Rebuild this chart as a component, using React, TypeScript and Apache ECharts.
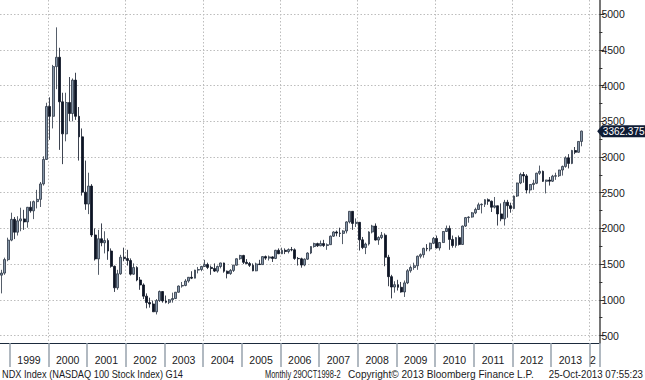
import React, { useEffect, useRef } from 'react';
import * as echarts from 'echarts';

// Category months: Oct 1998 .. Mar 2014
const firstYear = 1998;
const lastYear = 2014;
const months: string[] = [];
for (let y = firstYear; y <= lastYear; y++) {
  for (let m = 1; m <= 12; m++) {
    const key = `${y}-${m < 10 ? '0' + m : m}`;
    if (key >= '1998-10' && key <= '2014-03') months.push(key);
  }
}

// Monthly NDX values, Oct 1998 .. Oct 2013
const opens = [
  1345, 1374, 1563,
  1836, 2127, 1947, 2106, 2133, 2091, 2296, 2246, 2375, 2407, 2623, 2966,
  3707, 3570, 4266, 4397, 3773, 3324, 3763, 3609, 4077, 3570, 3282, 2507,
  2341, 2593, 1908, 1573, 1855, 1799, 1830, 1683, 1469, 1168, 1364, 1596,
  1577, 1550, 1359, 1452, 1277, 1208, 1051, 962, 942, 832, 989, 1116,
  984, 965, 1000, 1018, 1106, 1193, 1201, 1263, 1315, 1303, 1416, 1424,
  1467, 1494, 1454, 1438, 1402, 1466, 1516, 1400, 1367, 1412, 1485, 1575,
  1621, 1525, 1507, 1483, 1406, 1502, 1493, 1605, 1584, 1601, 1579, 1693,
  1645, 1693, 1676, 1703, 1700, 1579, 1575, 1487, 1569, 1655, 1746, 1787,
  1757, 1788, 1760, 1772, 1891, 1950, 1934, 1930, 1964, 2091, 2239, 2070,
  2085, 1840, 1732, 1781, 1950, 2033, 1837, 1872, 1905, 1596, 1324, 1179,
  1212, 1175, 1110, 1237, 1407, 1452, 1477, 1610, 1632, 1720, 1712, 1792,
  1860, 1726, 1802, 1957, 2000, 1846, 1760, 1871, 1775, 2033, 2151, 2159,
  2218, 2265, 2331, 2338, 2402, 2381, 2297, 2317, 2203, 2134, 2366, 2318,
  2278, 2453, 2636, 2755, 2735, 2538, 2615, 2632, 2773, 2799, 2659, 2678,
  2661, 2731, 2738, 2818, 2868, 2988, 2910, 3091, 3066, 3218,
];
const closes = [
  1374, 1563, 1836,
  2127, 1947, 2106, 2133, 2091, 2296, 2246, 2375, 2407, 2623, 2966, 3707,
  3570, 4266, 4397, 3773, 3324, 3763, 3609, 4077, 3570, 3282, 2507, 2341,
  2593, 1908, 1573, 1855, 1799, 1830, 1683, 1469, 1168, 1364, 1596, 1577,
  1550, 1359, 1452, 1277, 1208, 1051, 962, 942, 832, 989, 1116, 984,
  965, 1000, 1018, 1106, 1193, 1201, 1263, 1315, 1303, 1416, 1424, 1467,
  1494, 1454, 1438, 1402, 1466, 1516, 1400, 1367, 1412, 1485, 1575, 1621,
  1525, 1507, 1483, 1406, 1502, 1493, 1605, 1584, 1601, 1579, 1693, 1645,
  1693, 1676, 1703, 1700, 1579, 1575, 1487, 1569, 1655, 1746, 1787, 1757,
  1788, 1760, 1772, 1891, 1950, 1934, 1930, 1964, 2091, 2239, 2070, 2085,
  1840, 1732, 1781, 1950, 2033, 1837, 1872, 1905, 1596, 1324, 1179, 1212,
  1175, 1110, 1237, 1407, 1452, 1477, 1610, 1632, 1720, 1712, 1792, 1860,
  1726, 1802, 1957, 2000, 1846, 1760, 1871, 1775, 2033, 2151, 2159, 2218,
  2265, 2331, 2338, 2402, 2381, 2297, 2317, 2203, 2134, 2366, 2318, 2278,
  2453, 2636, 2755, 2735, 2538, 2615, 2632, 2773, 2799, 2659, 2678, 2661,
  2731, 2738, 2818, 2868, 2988, 2910, 3091, 3066, 3218, 3362.375,
];
const highs = [
  1420, 1590, 1870,
  2220, 2160, 2170, 2290, 2260, 2300, 2380, 2390, 2540, 2650, 3010, 3760,
  3836, 4290, 4816, 4530, 3900, 3900, 4120, 4100, 4180, 3700, 3400, 2950,
  2780, 2620, 2000, 1980, 2070, 1960, 1860, 1720, 1480, 1420, 1630, 1730,
  1700, 1580, 1510, 1470, 1320, 1230, 1090, 1030, 990, 1010, 1130, 1120,
  1060, 1010, 1100, 1110, 1200, 1250, 1290, 1320, 1400, 1420, 1460, 1475,
  1560, 1520, 1480, 1510, 1480, 1520, 1520, 1410, 1430, 1490, 1580, 1630,
  1630, 1570, 1530, 1510, 1520, 1560, 1610, 1620, 1620, 1610, 1700, 1720,
  1730, 1720, 1720, 1740, 1720, 1600, 1590, 1580, 1665, 1750, 1800, 1800,
  1830, 1840, 1790, 1900, 1960, 1970, 2010, 1975, 2100, 2240, 2240, 2140,
  2090, 1880, 1800, 1960, 2050, 2070, 1890, 1950, 1930, 1630, 1350, 1260,
  1280, 1250, 1270, 1430, 1480, 1520, 1620, 1650, 1730, 1780, 1800, 1880,
  1900, 1810, 1960, 2040, 2040, 1900, 1880, 1900, 2040, 2160, 2170, 2230,
  2290, 2360, 2350, 2410, 2420, 2390, 2440, 2320, 2350, 2400, 2400, 2360,
  2460, 2640, 2780, 2790, 2760, 2620, 2680, 2780, 2880, 2810, 2680, 2720,
  2750, 2780, 2820, 2880, 3010, 3040, 3100, 3140, 3220, 3370,
];
const lows = [
  1090, 1350, 1540,
  1820, 1850, 1900, 1960, 1980, 2010, 2220, 2130, 2280, 2300, 2600, 2960,
  3240, 3400, 3950, 3100, 2900, 3220, 3500, 3500, 3520, 2950, 2460, 2260,
  2200, 1880, 1550, 1350, 1750, 1650, 1560, 1450, 1110, 1140, 1350, 1540,
  1480, 1340, 1350, 1260, 1140, 1010, 880, 890, 830, 795, 970, 960,
  950, 940, 960, 1010, 1100, 1170, 1190, 1240, 1290, 1300, 1370, 1400,
  1460, 1430, 1350, 1390, 1380, 1440, 1380, 1300, 1350, 1390, 1480, 1560,
  1500, 1500, 1460, 1400, 1400, 1490, 1490, 1560, 1550, 1530, 1570, 1640,
  1640, 1640, 1650, 1680, 1560, 1480, 1450, 1470, 1560, 1640, 1730, 1740,
  1750, 1740, 1700, 1770, 1880, 1890, 1880, 1780, 1930, 2070, 1980, 2020,
  1690, 1710, 1640, 1760, 1930, 1830, 1770, 1850, 1470, 1190, 1020, 1100,
  1130, 1100, 1040, 1220, 1380, 1420, 1420, 1580, 1590, 1680, 1680, 1780,
  1720, 1690, 1800, 1950, 1700, 1730, 1730, 1760, 1770, 2020, 2080, 2150,
  2200, 2260, 2210, 2300, 2330, 2230, 2280, 2040, 2100, 2040, 2150, 2220,
  2270, 2440, 2620, 2640, 2490, 2490, 2540, 2620, 2750, 2650, 2490, 2600,
  2650, 2680, 2720, 2740, 2850, 2840, 2900, 3040, 3060, 3150,
];

const lastValue = 3362.375;
const yTicks = [500, 1000, 1500, 2000, 2500, 3000, 3500, 4000, 4500, 5000];
const yMinorTicks = [750, 1250, 1750, 2250, 2750, 3250, 3750, 4250, 4750];

const footerLeft = 'NDX Index (NASDAQ 100 Stock Index) G14';
const footerPeriod = 'Monthly 29OCT1998-2';
const footerCopy = 'Copyright\u00a9 2013 Bloomberg Finance L.P.';
const footerDate = '25-Oct-2013 07:55:23';

const FONT = "'Liberation Sans', Arial, sans-serif";

export default function App() {
  const ref = useRef<HTMLDivElement>(null);
  useEffect(() => {
    const chart = echarts.init(ref.current!, null, { renderer: 'svg' });
    const candles = opens.map((o, i) => [o, closes[i], lows[i], highs[i]]);
    const isJan = (v: string) => v.endsWith('-01');
    const textCol = '#1a1a22';
    const footStyle = (text: string, align: string) => ({
      text,
      fill: textCol,
      fontSize: 11,
      fontFamily: FONT,
      align,
      verticalAlign: 'middle',
    });
    chart.setOption({
      animation: false,
      backgroundColor: '#ffffff',
      textStyle: { fontFamily: FONT },
      grid: { left: -2, right: 45.6, top: 0, bottom: 37, containLabel: false },
      xAxis: {
        type: 'category',
        data: months,
        boundaryGap: true,
        axisLine: { show: true, onZero: false, lineStyle: { color: '#1b2a3c', width: 1 } },
        axisTick: {
          show: true,
          interval: (_i: number, v: string) => isJan(v),
          length: 24,
          lineStyle: { color: '#97a2ad', width: 1.5 },
        },
        axisLabel: {
          interval: (_i: number, v: string) => v.endsWith('-07') || v === '2014-02',
          formatter: (v: string) => (v === '2014-02' ? '2' : v.slice(0, 4)),
          margin: 11,
          fontSize: 10.5,
          color: textCol,
          fontFamily: FONT,
          padding: [0, 3.2, 0, 0],
        },
        splitLine: {
          show: true,
          interval: (_i: number, v: string) => isJan(v) && Number(v.slice(0, 4)) % 2 === 0,
          lineStyle: { color: '#bdbdbd', type: [1.5, 2], width: 1 },
        },
      },
      yAxis: [
        {
          type: 'value',
          position: 'right',
          min: 395,
          max: 5199,
          axisLine: { show: true, lineStyle: { color: '#767676', width: 2 } },
          axisTick: { show: true, customValues: yTicks, length: 5, lineStyle: { color: '#333', width: 1 } },
          axisLabel: {
            show: true,
            customValues: yTicks,
            margin: 2,
            fontSize: 10.5,
            color: textCol,
            fontFamily: FONT,
            formatter: (v: number) => String(v),
          },
          splitLine: { show: true, lineStyle: { color: '#bdbdbd', type: [1.5, 2], width: 1 } },
        },
        {
          type: 'value',
          position: 'right',
          min: 395,
          max: 5199,
          axisLine: { show: false },
          axisTick: { show: true, customValues: yMinorTicks, length: 3, lineStyle: { color: '#333', width: 1 } },
          axisLabel: { show: false },
          splitLine: { show: false },
        },
      ],
      series: [
        {
          type: 'candlestick',
          data: candles,
          barWidth: 2.4,
          itemStyle: {
            color: '#8596a8',
            color0: '#0d1424',
            borderColor: '#2b3544',
            borderColor0: '#0d1424',
            borderWidth: 0.8,
          },
          markPoint: {
            symbol: 'path://M0,6L5,0L48,0L48,12L5,12Z',
            symbolSize: [48, 12],
            symbolOffset: [39.5, 0],
            itemStyle: { color: '#0f1c35' },
            label: {
              show: true,
              position: 'inside',
              offset: [2.5, 0],
              color: '#ffffff',
              fontSize: 10,
              fontFamily: FONT,
              formatter: () => String(lastValue),
            },
            data: [{ coord: [months[closes.length - 1], lastValue], value: lastValue }],
          },
        },
      ],
      graphic: [
        { type: 'text', x: 2, y: 374, scaleX: 0.84, style: footStyle(footerLeft, 'left') },
        { type: 'text', x: 265, y: 374, scaleX: 0.68, style: footStyle(footerPeriod, 'left') },
        { type: 'text', x: 348, y: 374, scaleX: 0.92, style: footStyle(footerCopy, 'left') },
        { type: 'text', x: 643, y: 374, scaleX: 0.88, style: footStyle(footerDate, 'right') },
      ],
    });
    return () => chart.dispose();
  }, []);
  return (
    <div style={{ position: 'fixed', left: 0, top: 0, width: 645, height: 380, background: '#fff' }}>
      <div ref={ref} style={{ width: 645, height: 380 }} />
    </div>
  );
}
